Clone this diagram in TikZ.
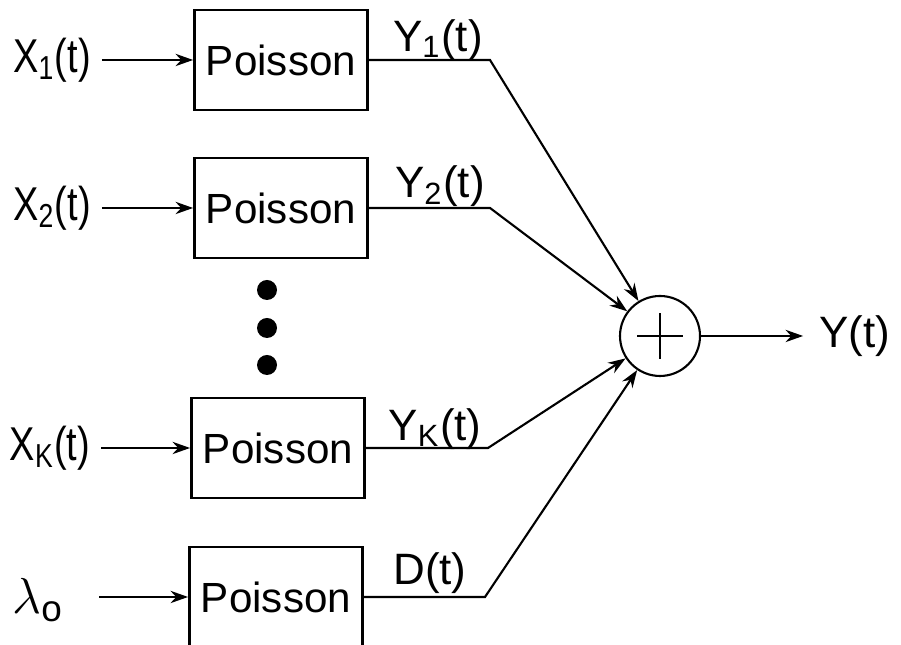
\documentclass[tikz,border=0pt]{standalone}
\usepackage{fontspec}
\setmainfont{Liberation Sans}
\usepackage{graphicx}
\usepackage{tikz}
\usetikzlibrary{arrows.meta}
\tikzset{
  blk/.style={draw, line width=0.8pt, minimum width=1.73cm, minimum height=1cm, inner sep=0pt, font=\fontsize{12}{14}\selectfont},
  wire/.style={line width=0.6pt},
  sig/.style={wire, -{Stealth[length=5pt,width=3.5pt]}},
  inlab/.style={inner sep=3pt, font=\fontsize{13.5}{16}\selectfont},
  outlab/.style={inner sep=0pt, font=\fontsize{12.5}{15}\selectfont},
  dotpt/.style={circle, fill=black, inner sep=0pt, minimum size=0.2cm},
  summer/.style={circle, draw, line width=0.6pt, minimum size=0.8cm, inner sep=0pt}
}
\newcommand{\PlusIn}[1]{%
  \draw[wire] (#1.center) ++(-0.23,0) -- ++(0.46,0);
  \draw[wire] (#1.center) ++(0,-0.23) -- ++(0,0.46);
}
\newcommand{\narrow}[1]{\scalebox{0.8}[1]{#1}}

\begin{document}
\begin{tikzpicture}[x=1cm, y=1cm]
  \useasboundingbox (0,0) rectangle (9.01,6.45);

  \node[blk] (p1) at (2.81,5.85) {Poisson};
  \node[blk] (p2) at (2.81,4.37) {Poisson};
  \node[blk] (pk) at (2.78,1.97) {Poisson};
  \node[blk] (pd) at (2.76,0.48) {Poisson};

  \node[inlab] (x1) at (0.52,5.85) {\narrow{X\textsubscript{1}(t)}};
  \node[inlab] (x2) at (0.52,4.37) {\narrow{X\textsubscript{2}(t)}};
  \node[inlab] (xk) at (0.50,1.97) {\narrow{X\textsubscript{K}(t)}};
  \node[inlab, inner xsep=10pt, font=\fontsize{15}{18}\selectfont] (lam) at (0.38,0.45) {$\lambda$\textsubscript{o}};

  \draw[sig] (x1) -- (p1);
  \draw[sig] (x2) -- (p2);
  \draw[sig] (xk) -- (pk);
  \draw[sig] (lam.east |- pd) -- (pd);

  \node[dotpt] (d1) at (2.67,3.55) {};
  \node[dotpt] (d2) at (2.67,3.17) {};
  \node[dotpt] (d3) at (2.67,2.80) {};

  \node[summer] (sum) at (6.60,3.09) {};
  \PlusIn{sum}

  \coordinate (c1) at (4.90,5.85);
  \coordinate (c2) at (4.90,4.37);
  \coordinate (ck) at (4.88,1.97);
  \coordinate (cd) at (4.85,0.48);

  \draw[sig] (p1) -- (c1) -- (sum);
  \draw[sig] (p2) -- (c2) -- (sum);
  \draw[sig] (pk) -- (ck) -- (sum);
  \draw[sig] (pd) -- (cd) -- (sum);

  \node[outlab] (y1) at (4.38,6.05) {Y\textsubscript{1}(t)};
  \node[outlab] (y2) at (4.40,4.59) {Y\textsubscript{2}(t)};
  \node[outlab] (yk) at (4.35,2.16) {Y\textsubscript{K}(t)};
  \node[outlab] (dt) at (4.30,0.72) {D(t)};

  \node[outlab, inner sep=4.5pt] (yout) at (8.55,3.09) {Y(t)};
  \draw[sig] (sum) -- (yout);
\end{tikzpicture}
\end{document}
